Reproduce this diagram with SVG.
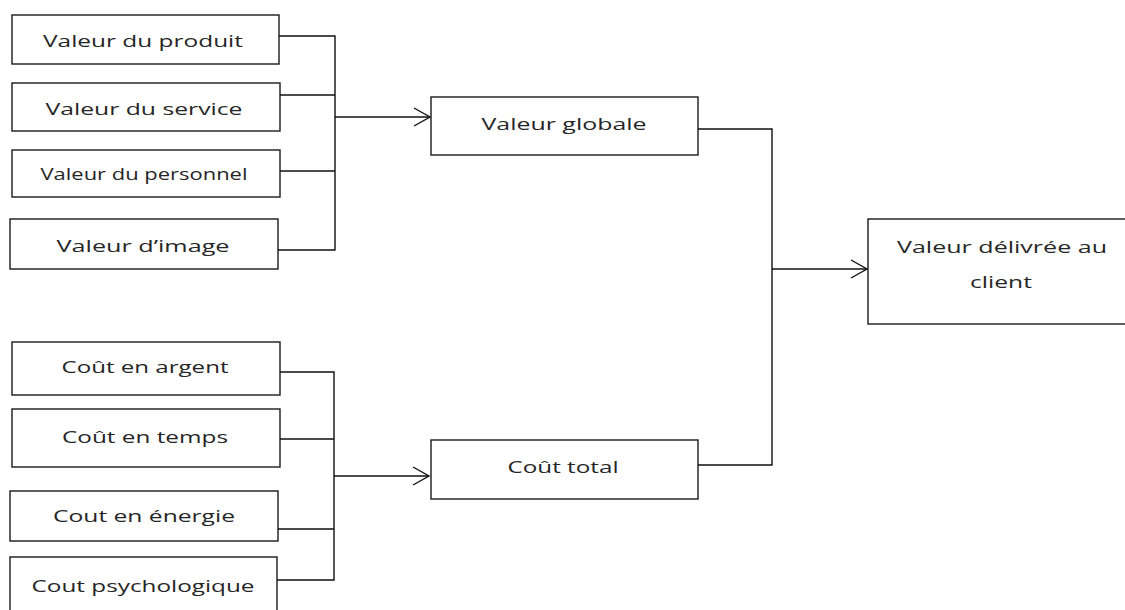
<svg xmlns="http://www.w3.org/2000/svg" width="1125" height="610" viewBox="0 0 1125 610">
  <style>
    .box { fill: #ffffff; stroke: #1a1a1a; stroke-width: 1.4; }
    .lbl { font-family: "Open Sans", "Liberation Sans", sans-serif; font-size: 17px; fill: #262626; text-anchor: middle; }
    .wire { fill: none; stroke: #111111; stroke-width: 1.4; }
  </style>
  <defs>
    <marker id="chevron" markerUnits="userSpaceOnUse" markerWidth="22" markerHeight="22" refX="17" refY="10" orient="auto">
      <path d="M1,1 L17,10 L1,19" fill="none" stroke="#111111" stroke-width="1.4"/>
    </marker>
  </defs>
  <rect width="1125" height="610" fill="#ffffff"/>

  <!-- value components -->
  <g id="valeur-produit">
    <rect class="box" x="12" y="15" width="267" height="49"/>
    <text class="lbl" x="143" y="47" textLength="200" lengthAdjust="spacingAndGlyphs">Valeur du produit</text>
  </g>
  <g id="valeur-service">
    <rect class="box" x="12" y="83" width="268" height="48"/>
    <text class="lbl" x="144" y="115" textLength="197" lengthAdjust="spacingAndGlyphs">Valeur du service</text>
  </g>
  <g id="valeur-personnel">
    <rect class="box" x="12" y="150" width="268" height="47"/>
    <text class="lbl" x="144" y="180" textLength="207" lengthAdjust="spacingAndGlyphs">Valeur du personnel</text>
  </g>
  <g id="valeur-image">
    <rect class="box" x="10" y="219" width="268" height="50"/>
    <text class="lbl" x="143" y="252" textLength="173" lengthAdjust="spacingAndGlyphs">Valeur d’image</text>
  </g>

  <!-- cost components -->
  <g id="cout-argent">
    <rect class="box" x="12" y="342" width="268" height="53"/>
    <text class="lbl" x="145" y="373" textLength="167" lengthAdjust="spacingAndGlyphs">Coût en argent</text>
  </g>
  <g id="cout-temps">
    <rect class="box" x="12" y="409" width="268" height="58"/>
    <text class="lbl" x="145" y="443" textLength="166" lengthAdjust="spacingAndGlyphs">Coût en temps</text>
  </g>
  <g id="cout-energie">
    <rect class="box" x="10" y="491" width="268" height="50"/>
    <text class="lbl" x="144" y="522" textLength="182" lengthAdjust="spacingAndGlyphs">Cout en énergie</text>
  </g>
  <g id="cout-psychologique">
    <rect class="box" x="10" y="557" width="267" height="65"/>
    <text class="lbl" x="143" y="592" textLength="223" lengthAdjust="spacingAndGlyphs">Cout psychologique</text>
  </g>

  <!-- totals -->
  <g id="valeur-globale">
    <rect class="box" x="431" y="97" width="267" height="58"/>
    <text class="lbl" x="564" y="130" textLength="165" lengthAdjust="spacingAndGlyphs">Valeur globale</text>
  </g>
  <g id="cout-total">
    <rect class="box" x="431" y="440" width="267" height="59"/>
    <text class="lbl" x="563" y="473" textLength="111" lengthAdjust="spacingAndGlyphs">Coût total</text>
  </g>

  <!-- result -->
  <g id="valeur-delivree">
    <rect class="box" x="868" y="219" width="272" height="105"/>
    <text class="lbl" x="1002" y="253" textLength="210" lengthAdjust="spacingAndGlyphs">Valeur délivrée au</text>
    <text class="lbl" x="1001" y="288" textLength="62" lengthAdjust="spacingAndGlyphs">client</text>
  </g>

  <g id="connectors">
    <!-- value bracket -->
    <path class="wire" d="M279,36 H335 V250 H278 M280,95 H335 M280,171 H335"/>
    <path class="wire" d="M335,117 H430" marker-end="url(#chevron)"/>
    <!-- cost bracket -->
    <path class="wire" d="M280,372 H334 V580 H277 M280,439 H334 M278,529 H334"/>
    <path class="wire" d="M334,476 H429" marker-end="url(#chevron)"/>
    <!-- totals to result -->
    <path class="wire" d="M698,129 H772 V465 H698"/>
    <path class="wire" d="M772,269 H867" marker-end="url(#chevron)"/>
  </g>
</svg>
